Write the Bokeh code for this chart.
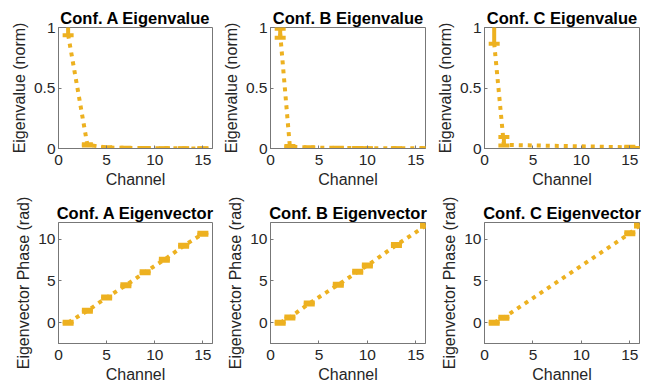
from bokeh.plotting import figure
from bokeh.layouts import column, row
from bokeh.models import (ColumnDataSource, Whisker, TeeHead, Range1d,
                          FixedTicker)
from bokeh.embed import file_html
from bokeh.resources import INLINE

# ---------------- data ----------------
titles_top = ["Conf. A Eigenvalue", "Conf. B Eigenvalue", "Conf. C Eigenvalue"]
titles_bot = ["Conf. A Eigenvector", "Conf. B Eigenvector", "Conf. C Eigenvector"]

ch_A = [1, 3, 5, 7, 9, 11, 13, 15]
ch_B = [1, 2, 4, 7, 9, 10, 13, 16]
ch_C = [1, 2, 15, 16]

eval_A = [0.94, 0.03, 0.008, 0.005, 0.003, 0.002, 0.001, 0.001]
eval_A_lo = [0.935, 0.025, 0.005, 0.003, 0.002, 0.001, 0.0, 0.0]
eval_A_hi = [1.05, 0.035, 0.011, 0.007, 0.004, 0.003, 0.002, 0.002]

eval_B = [0.95, 0.015, 0.008, 0.005, 0.003, 0.002, 0.002, 0.001]
eval_B_lo = [0.915, 0.01, 0.005, 0.003, 0.002, 0.001, 0.001, 0.0]
eval_B_hi = [0.99, 0.02, 0.011, 0.007, 0.004, 0.003, 0.003, 0.002]

eval_C = [0.87, 0.03, 0.01, 0.002]
eval_C_lo = [0.865, 0.025, 0.006, 0.0]
eval_C_hi = [1.05, 0.095, 0.014, 0.004]

evec_A = [0.0, 1.42, 3.0, 4.47, 6.05, 7.55, 9.2, 10.65]
evec_B = [0.0, 0.63, 2.3, 4.55, 6.1, 6.85, 9.3, 11.6]
evec_C = [0.0, 0.6, 10.7, 11.65]
evec_err = 0.12

eval_ticks = [0, 0.5, 1]
eval_tick_labels = ["0", "0.5", "1"]
evec_ticks = [0, 5, 10]
evec_tick_labels = ["0", "5", "10"]
x_ticks = [0, 5, 10, 15]
x_tick_labels = ["0", "5", "10", "15"]

COLOR = "#EDB120"
FONT = "Liberation Sans"
TXT = "#262626"
FRAME = "#777777"


def panel(title, xs, ys, lo, hi, yr, yticks, ylabels, ylabel,
          width, height, mbl, mbr, mbt, mbb):
    p = figure(width=width, height=height, output_backend="svg",
               toolbar_location=None, x_range=Range1d(0, 16),
               y_range=Range1d(*yr), min_border_left=mbl,
               min_border_right=mbr, min_border_top=mbt,
               min_border_bottom=mbb, background_fill_color="white",
               border_fill_color="white")
    p.title.text = title
    p.title.align = "center"
    p.title.text_font = FONT
    p.title.text_font_size = "16.5px"
    p.title.text_font_style = "bold"
    p.title.text_color = "black"
    p.title.standoff = 2
    p.xgrid.visible = False
    p.ygrid.visible = False
    p.outline_line_color = FRAME
    p.outline_line_width = 1

    for ax in (p.xaxis[0], p.yaxis[0]):
        ax.axis_line_color = FRAME
        ax.major_tick_line_color = FRAME
        ax.minor_tick_line_color = None
        ax.major_tick_in = 3
        ax.major_tick_out = 0
        ax.major_label_text_font = FONT
        ax.major_label_text_font_size = "15.5px"
        ax.major_label_text_color = TXT
        ax.axis_label_text_font = FONT
        ax.axis_label_text_font_size = "16px"
        ax.axis_label_text_font_style = "normal"
        ax.axis_label_text_color = TXT

    p.xaxis.ticker = FixedTicker(ticks=x_ticks)
    p.xaxis.major_label_overrides = dict(zip(x_ticks, x_tick_labels))
    p.xaxis.axis_label = "Channel"
    p.xaxis.major_label_standoff = 6
    p.xaxis.axis_label_standoff = 3

    p.yaxis.ticker = FixedTicker(ticks=yticks)
    p.yaxis.major_label_overrides = dict(zip(yticks, ylabels))
    p.yaxis.axis_label = ylabel
    p.yaxis.major_label_standoff = 3
    p.yaxis.axis_label_standoff = 3

    src = ColumnDataSource(dict(x=xs, y=ys, lo=lo, hi=hi))
    p.line("x", "y", source=src, line_color=COLOR, line_width=4,
           line_dash="4 5", line_cap="butt")
    w = Whisker(source=src, base="x", lower="lo", upper="hi",
                dimension="height", line_color=COLOR, line_width=4,
                upper_head=TeeHead(size=11, line_color=COLOR, line_width=4),
                lower_head=TeeHead(size=11, line_color=COLOR, line_width=4))
    p.add_layout(w)
    return p


def err(vals, e, sign):
    return [v + sign * e for v in vals]


widths = [218, 214, 222]
mbls = [58, 52, 52]
mbrs = [6, 7, 15]

tops = []
for i, (xs, ys, lo, hi) in enumerate([(ch_A, eval_A, eval_A_lo, eval_A_hi),
                                      (ch_B, eval_B, eval_B_lo, eval_B_hi),
                                      (ch_C, eval_C, eval_C_lo, eval_C_hi)]):
    tops.append(panel(titles_top[i], xs, ys, lo, hi, (0, 1), eval_ticks,
                      eval_tick_labels, "Eigenvalue (norm)", widths[i], 196,
                      mbls[i], mbrs[i], 27, 48))

bots = []
for i, (xs, ys) in enumerate([(ch_A, evec_A), (ch_B, evec_B), (ch_C, evec_C)]):
    bots.append(panel(titles_bot[i], xs, ys, err(ys, evec_err, -1),
                      err(ys, evec_err, 1), (-2.5, 12), evec_ticks,
                      evec_tick_labels, "Eigenvector Phase (rad)", widths[i],
                      194, mbls[i], mbrs[i], 26, 47))

layout = column(row(*tops, spacing=0), row(*bots, spacing=0), spacing=0)
open("out.html", "w").write(file_html(layout, INLINE))
